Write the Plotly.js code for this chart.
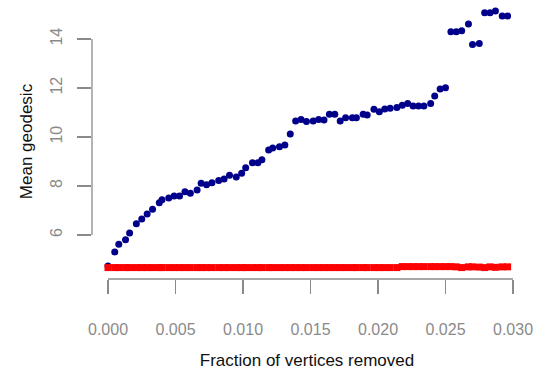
<!DOCTYPE html>
<html>
<head>
<meta charset="utf-8">
<script src="https://cdn.plot.ly/plotly-3.0.1.min.js"></script>
<style>html,body{margin:0;padding:0;background:#fff;}#chart{width:549px;height:370px;}</style>
</head>
<body>
<div id="chart"></div>
<script>
// Fraction of vertices removed (x)
const fraction = [0.0000,0.0005,0.0008,0.0013,0.0016,0.0021,0.0025,0.0029,0.0033,0.0038,0.0040,0.0045,0.0049,0.0053,0.0057,0.0061,0.0066,0.0069,0.0073,0.0077,0.0082,0.0086,0.0090,0.0095,0.0099,0.0102,0.0107,0.0111,0.0114,0.0119,0.0122,0.0127,0.0131,0.0135,0.0139,0.0143,0.0147,0.0152,0.0156,0.0160,0.0164,0.0168,0.0172,0.0176,0.0181,0.0184,0.0189,0.0192,0.0197,0.0201,0.0205,0.0209,0.0214,0.0218,0.0222,0.0226,0.0230,0.0234,0.0239,0.0242,0.0246,0.0250,0.0254,0.0258,0.0262,0.0267,0.0270,0.0275,0.0279,0.0283,0.0287,0.0292,0.0296];
// Blue series (navy circles)
const blueValues = [4.73,5.31,5.62,5.81,6.08,6.46,6.65,6.86,7.05,7.32,7.44,7.51,7.59,7.59,7.77,7.70,7.84,8.11,8.05,8.13,8.22,8.29,8.44,8.37,8.52,8.75,8.95,8.95,9.07,9.47,9.55,9.60,9.67,10.12,10.65,10.72,10.63,10.65,10.72,10.69,10.93,10.93,10.65,10.79,10.79,10.79,10.93,10.90,11.13,11.03,11.14,11.17,11.21,11.30,11.37,11.27,11.27,11.27,11.37,11.67,11.96,12.01,14.30,14.30,14.34,14.61,13.78,13.82,15.07,15.07,15.14,14.94,14.94];
// Red series (red squares)
const redValues = [4.67,4.67,4.67,4.67,4.67,4.67,4.67,4.67,4.67,4.67,4.67,4.67,4.67,4.67,4.67,4.67,4.67,4.67,4.67,4.67,4.67,4.67,4.67,4.67,4.67,4.67,4.67,4.67,4.67,4.67,4.67,4.67,4.67,4.67,4.67,4.67,4.67,4.67,4.67,4.67,4.67,4.67,4.67,4.67,4.67,4.67,4.67,4.67,4.67,4.67,4.67,4.67,4.67,4.71,4.71,4.71,4.71,4.71,4.71,4.71,4.71,4.71,4.71,4.70,4.67,4.70,4.70,4.69,4.67,4.70,4.68,4.70,4.70];
const xTicks = [0.000,0.005,0.010,0.015,0.020,0.025,0.030];
const xTickLabels = ["0.000","0.005","0.010","0.015","0.020","0.025","0.030"];
const yTicks = [6,8,10,12,14];
const yTickLabels = ["6","8","10","12","14"];

const axisGray = '#8a8a8a';
const traces = [
  {x: fraction, y: blueValues, type: 'scatter', mode: 'markers',
   marker: {color: '#00008B', size: 7, symbol: 'circle'}, hoverinfo: 'x+y'},
  {x: fraction, y: redValues, type: 'scatter', mode: 'markers',
   marker: {color: '#FF0000', size: 7, symbol: 'square'}, hoverinfo: 'x+y'}
];
const layout = {
  width: 549, height: 370,
  margin: {l: 92, r: 27, t: 4, b: 91},
  paper_bgcolor: '#fff', plot_bgcolor: '#fff',
  showlegend: false,
  font: {family: 'Liberation Sans, Arial, sans-serif'},
  xaxis: {
    range: [-0.001185, 0.030667], autorange: false,
    tickvals: xTicks, ticktext: xTickLabels,
    ticks: 'outside', ticklen: 14, tickwidth: 1.3, tickcolor: axisGray,
    ticklabelstandoff: 22,
    tickfont: {size: 16, color: axisGray},
    showline: false, showgrid: false, zeroline: false,
    automargin: false,
    title: {text: 'Fraction of vertices removed', font: {size: 17, color: '#111'}, standoff: 18}
  },
  yaxis: {
    range: [4.204, 15.43], autorange: false,
    tickvals: yTicks, ticktext: yTickLabels,
    ticks: 'outside', ticklen: 14, tickwidth: 1.3, tickcolor: axisGray,
    tickangle: -90, ticklabelstandoff: 9,
    tickfont: {size: 16, color: axisGray},
    showline: false, showgrid: false, zeroline: false,
    automargin: false,
    title: {text: 'Mean geodesic', font: {size: 17, color: '#111'}, standoff: 10}
  },
  shapes: [
    {type: 'line', xref: 'x', yref: 'paper', x0: xTicks[0], x1: xTicks[xTicks.length-1], y0: 0, y1: 0,
     line: {color: axisGray, width: 1.3}},
    {type: 'line', xref: 'paper', yref: 'y', x0: 0, x1: 0, y0: yTicks[0], y1: yTicks[yTicks.length-1],
     line: {color: axisGray, width: 1.3}}
  ]
};
Plotly.newPlot('chart', traces, layout, {displayModeBar: false, staticPlot: true});
</script>
</body>
</html>
